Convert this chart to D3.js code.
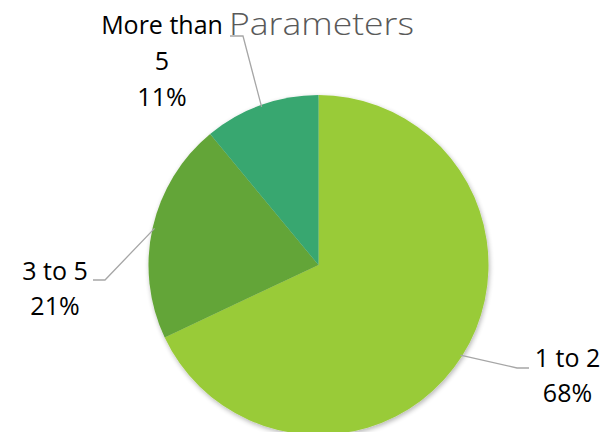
<!DOCTYPE html>
<html><head><meta charset="utf-8">
<script src="https://cdn.jsdelivr.net/npm/d3@7"></script>
<style>html,body{margin:0;padding:0;background:#fff;}svg{display:block;}</style>
</head><body>
<svg id="chart" width="612" height="432"></svg>
<script>
const categories = ["1 to 2", "3 to 5", "More than 5"];
const values = [68, 21, 11];
const labelLines = [["1 to 2", "68%"], ["3 to 5", "21%"], ["More than", "5", "11%"]];
const colors = ["#99CB38", "#63A537", "#37A76F"];
const title = "Parameters";

const svg = d3.select("#chart");
const cx = 318.5, cy = 265, R = 170;
const font = "'Open Sans', sans-serif";

const defs = svg.append("defs");
const f = defs.append("filter").attr("id","sh").attr("x","-20%").attr("y","-20%").attr("width","140%").attr("height","140%");
f.append("feGaussianBlur").attr("in","SourceAlpha").attr("stdDeviation",2.5);
f.append("feOffset").attr("dx",1).attr("dy",1.5).attr("result","b");
f.append("feComponentTransfer").append("feFuncA").attr("type","linear").attr("slope",0.3);
const m = f.append("feMerge"); m.append("feMergeNode"); m.append("feMergeNode").attr("in","SourceGraphic");

const pie = d3.pie().sort(null).value(d => d)(values);
const arc = d3.arc().innerRadius(0).outerRadius(R);
const g = svg.append("g").attr("transform", `translate(${cx},${cy})`);
g.append("g").attr("filter","url(#sh)").selectAll("path").data(pie).join("path")
  .attr("d", arc).attr("fill", (d,i) => colors[i]);

// title
svg.append("text").attr("x", 321.5).attr("y", 35).attr("text-anchor","middle")
  .attr("font-family", font).attr("font-weight", 300).attr("font-size", 32)
  .attr("textLength", 185).attr("lengthAdjust", "spacingAndGlyphs")
  .attr("fill", "#595959").text(title);

// label layout
const layout = [
  {elbow: [517, 368], end: [529, 368], tx: 567.5, ty: 367},
  {elbow: [105, 280], end: [93, 280], tx: 55, ty: 280},
  {elbow: [243, 36], end: [230, 36], tx: 162, ty: 34}
];
pie.forEach((d, i) => {
  const a = (d.startAngle + d.endAngle) / 2;
  const p0 = [cx + (R - 2) * Math.sin(a), cy - (R - 2) * Math.cos(a)];
  const L = layout[i];
  svg.append("polyline").attr("points", [p0, L.elbow, L.end].map(p => p.join(",")).join(" "))
    .attr("fill","none").attr("stroke","#A6A6A6").attr("stroke-width",1.3);
  const t = svg.append("text").attr("text-anchor","middle").attr("font-family", font)
    .attr("font-size", 25).attr("fill","#000");
  labelLines[i].forEach((s, k) => {
    t.append("tspan").attr("x", L.tx).attr("y", L.ty + k * (i === 2 ? 36 : 35)).text(s);
  });
});
</script>
</body></html>
